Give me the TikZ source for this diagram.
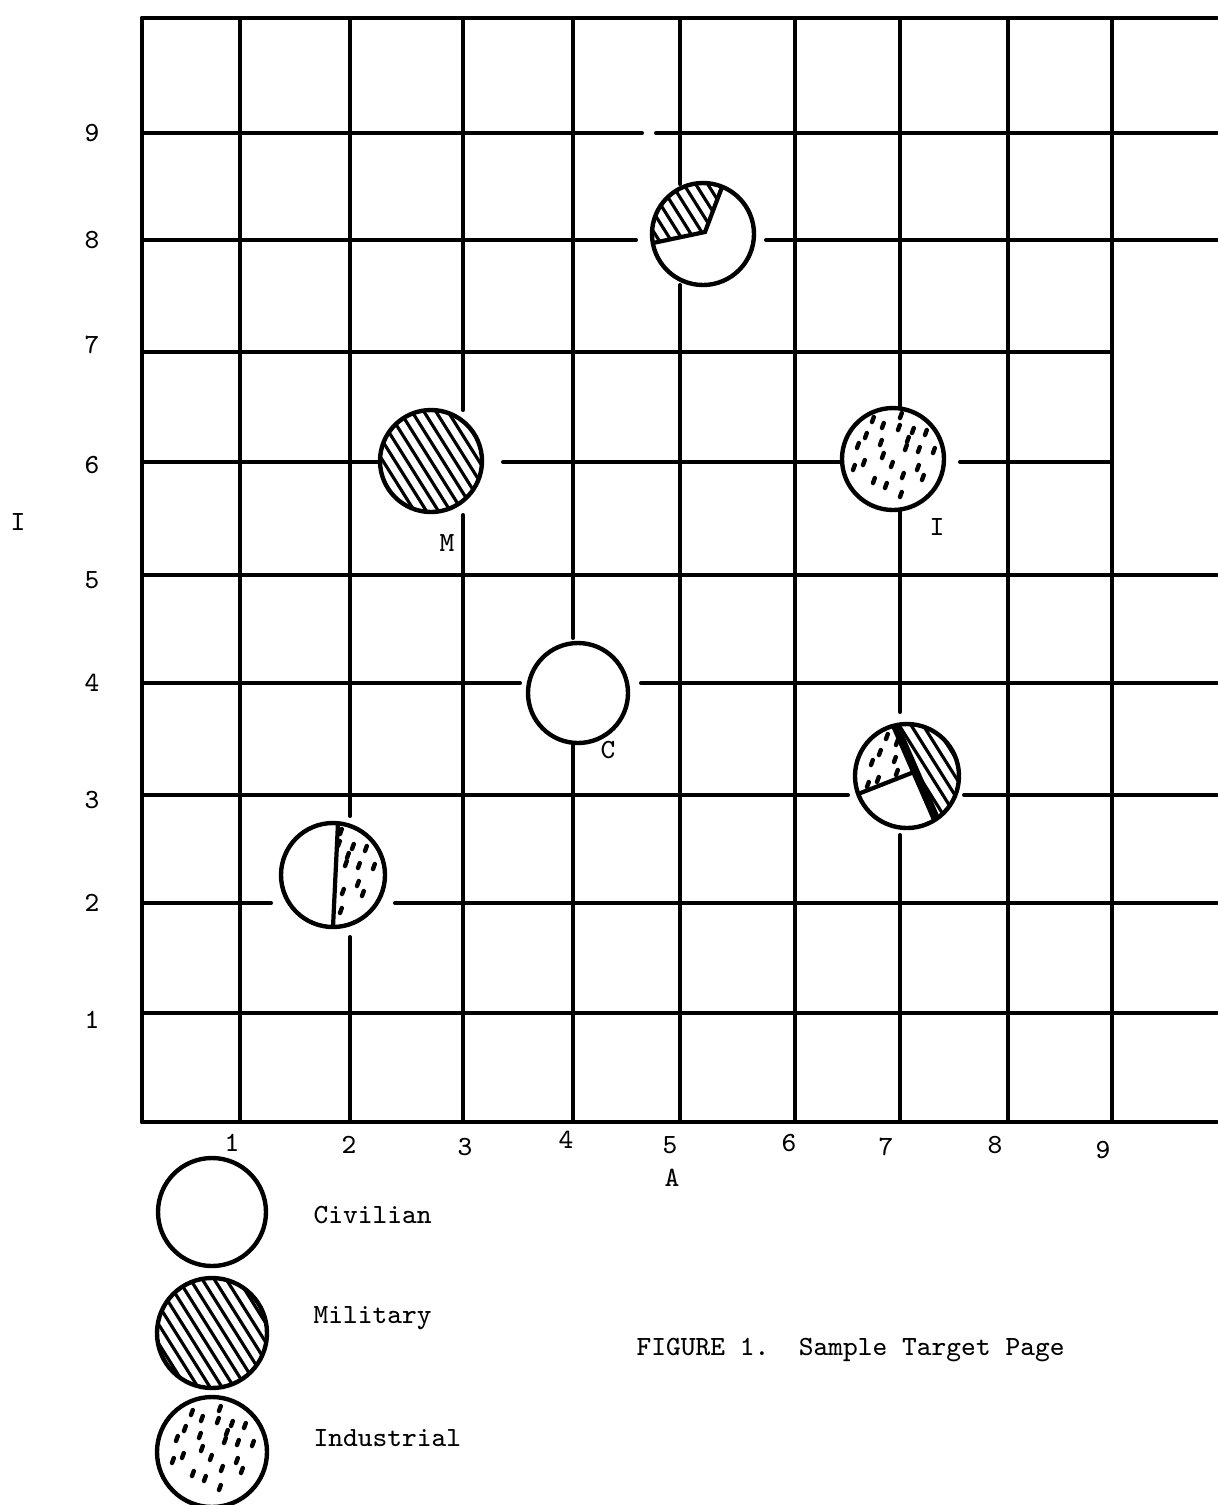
\documentclass[tikz,border=0pt]{standalone}
\usepackage{tikz}
\usetikzlibrary{calc}

\newcommand{\hatchfill}{%
  \foreach \k in {-7,...,7}
    \draw[hatchline] (\k*8.6-32, 0-\k*5.4-51) -- ++(64,102);}
\newcommand{\speckfill}{%
  \foreach \dx/\dy in {-21/-37,-11/-31,7/-41,19/-26,32/-24,5/-29,-36/-11,-28/-21,
      -13/-14,12/-9,25/-7,40/-6,-11/-1,-30/6,-40/11,24/11,9/19,29/21,-20/24,-8/29,7/38,
      14/-17,-2/8}
    \draw[speck] (\dx,\dy) -- ++(1.8,-5);}

\begin{document}
\begin{tikzpicture}[
  x=0.01cm, y=-0.01cm,
  font=\ttfamily\fontsize{7.9}{10}\selectfont,
  gridline/.style={line width=1.15pt, line cap=round},
  ring/.style={draw, line width=1.25pt},
  hatchline/.style={line width=0.9pt},
  speck/.style={line width=1.25pt, line cap=round},
  chord/.style={line width=1.2pt},
  thickchord/.style={line width=2.4pt},
  lbl/.style={inner sep=0pt},
]
\useasboundingbox (0,0) rectangle (1217,1505);

% grid
\foreach \y/\a/\b in {18/142/1217, 133/142/642, 133/656/1217, 240/142/636, 240/766/1217,
    352/142/1112, 462/142/378, 462/503/840, 462/960/1112, 575/142/1217,
    683/142/520, 683/641/1217, 795/142/848, 795/964/1217, 903/142/271, 903/395/1217,
    1013/142/1217, 1122/142/1217}
  \draw[gridline] (\a,\y) -- (\b,\y);
\foreach \x/\a/\b in {142/18/1122, 240/18/1122, 350/18/816, 350/937/1122,
    463/18/410, 463/515/1122, 573/18/638, 573/745/1122, 680/18/184, 680/285/1122,
    795/18/1122, 900/18/408, 900/510/712, 900/835/1122, 1008/18/1122, 1112/18/1122}
  \draw[gridline] (\x,\a) -- (\x,\b);

% targets
\coordinate (topc) at (703,234);
\coordinate (milc) at (431,461);
\coordinate (indc) at (893,459);
\coordinate (civc) at (578,693);
\coordinate (mixc) at (907,776);
\coordinate (halfc) at (333,875);

\begin{scope}
  \clip (topc) circle[radius=51];
  \clip (705,232) -- (732,165) -- (640,165) -- (640,244) -- cycle;
  \begin{scope}[shift={(topc)}] \hatchfill \end{scope}
\end{scope}
\draw[chord] (653,243) -- (705,232) -- (722,187);
\draw[ring] (topc) circle[radius=51];

\begin{scope}
  \clip (milc) circle[radius=51];
  \begin{scope}[shift={(milc)}] \hatchfill \end{scope}
\end{scope}
\draw[ring] (milc) circle[radius=51];

\begin{scope}
  \clip (indc) circle[radius=51];
  \begin{scope}[shift={(indc)}] \speckfill \end{scope}
\end{scope}
\draw[ring] (indc) circle[radius=51];

\draw[ring] (civc) circle[radius=50];

\begin{scope}
  \clip (mixc) circle[radius=52];
  \clip (884,700) -- (949,850) -- (1000,850) -- (1000,700) -- cycle;
  \begin{scope}[shift={(mixc)}] \hatchfill \end{scope}
\end{scope}
\begin{scope}
  \clip (mixc) circle[radius=52];
  \clip (914,772) -- (884,700) -- (830,700) -- (830,805) -- cycle;
  \begin{scope}[shift={(mixc)}] \speckfill \end{scope}
\end{scope}
\draw[thickchord] (895,725) -- (936,819);
\draw[chord] (914,772) -- (858,794);
\draw[ring] (mixc) circle[radius=52];

\begin{scope}
  \clip (halfc) circle[radius=52];
  \clip (339,810) -- (332,940) -- (400,940) -- (400,810) -- cycle;
  \begin{scope}[shift={(halfc)}] \speckfill \end{scope}
\end{scope}
\draw[chord] (338,823) -- (333,927);
\draw[ring] (halfc) circle[radius=52];

\node[lbl] (labM) at (447,543) {M};
\node[lbl] (labI) at (937,527) {I};
\node[lbl] (labC) at (608,750) {C};

% axes
\foreach \n/\y in {9/133, 8/240, 7/345, 6/465, 5/580, 4/683, 3/800, 2/903, 1/1020}
  \node[lbl] (row\n) at (92,\y) {\n};
\foreach \n/\x/\y in {1/232/1143, 2/349/1145, 3/465/1147, 4/566/1140, 5/670/1145,
    6/789/1143, 7/886/1147, 8/995/1145, 9/1103/1150}
  \node[lbl] (col\n) at (\x,\y) {\n};
\node[lbl] (axisI) at (18,522) {I};
\node[lbl] (axisA) at (672,1178) {A};

% legend
\coordinate (civkey) at (212,1212);
\coordinate (milkey) at (212,1333);
\coordinate (indkey) at (212,1452);
\draw[ring] (civkey) circle[radius=54];
\begin{scope}
  \clip (milkey) circle[radius=55];
  \begin{scope}[shift={(milkey)}] \hatchfill \end{scope}
\end{scope}
\draw[ring] (milkey) circle[radius=55];
\begin{scope}
  \clip (indkey) circle[radius=55];
  \begin{scope}[shift={(indkey)}] \speckfill \end{scope}
\end{scope}
\draw[ring] (indkey) circle[radius=55];

\node[lbl, anchor=west] (civtxt) at (313,1215) {Civilian};
\node[lbl, anchor=west] (miltxt) at (313,1318) {Military};
\node[lbl, anchor=west] (indtxt) at (313,1438) {Industrial};
\node[lbl, anchor=west] (caption) at (636,1350) {FIGURE 1.\ \ Sample Target Page};
\end{tikzpicture}
\end{document}
